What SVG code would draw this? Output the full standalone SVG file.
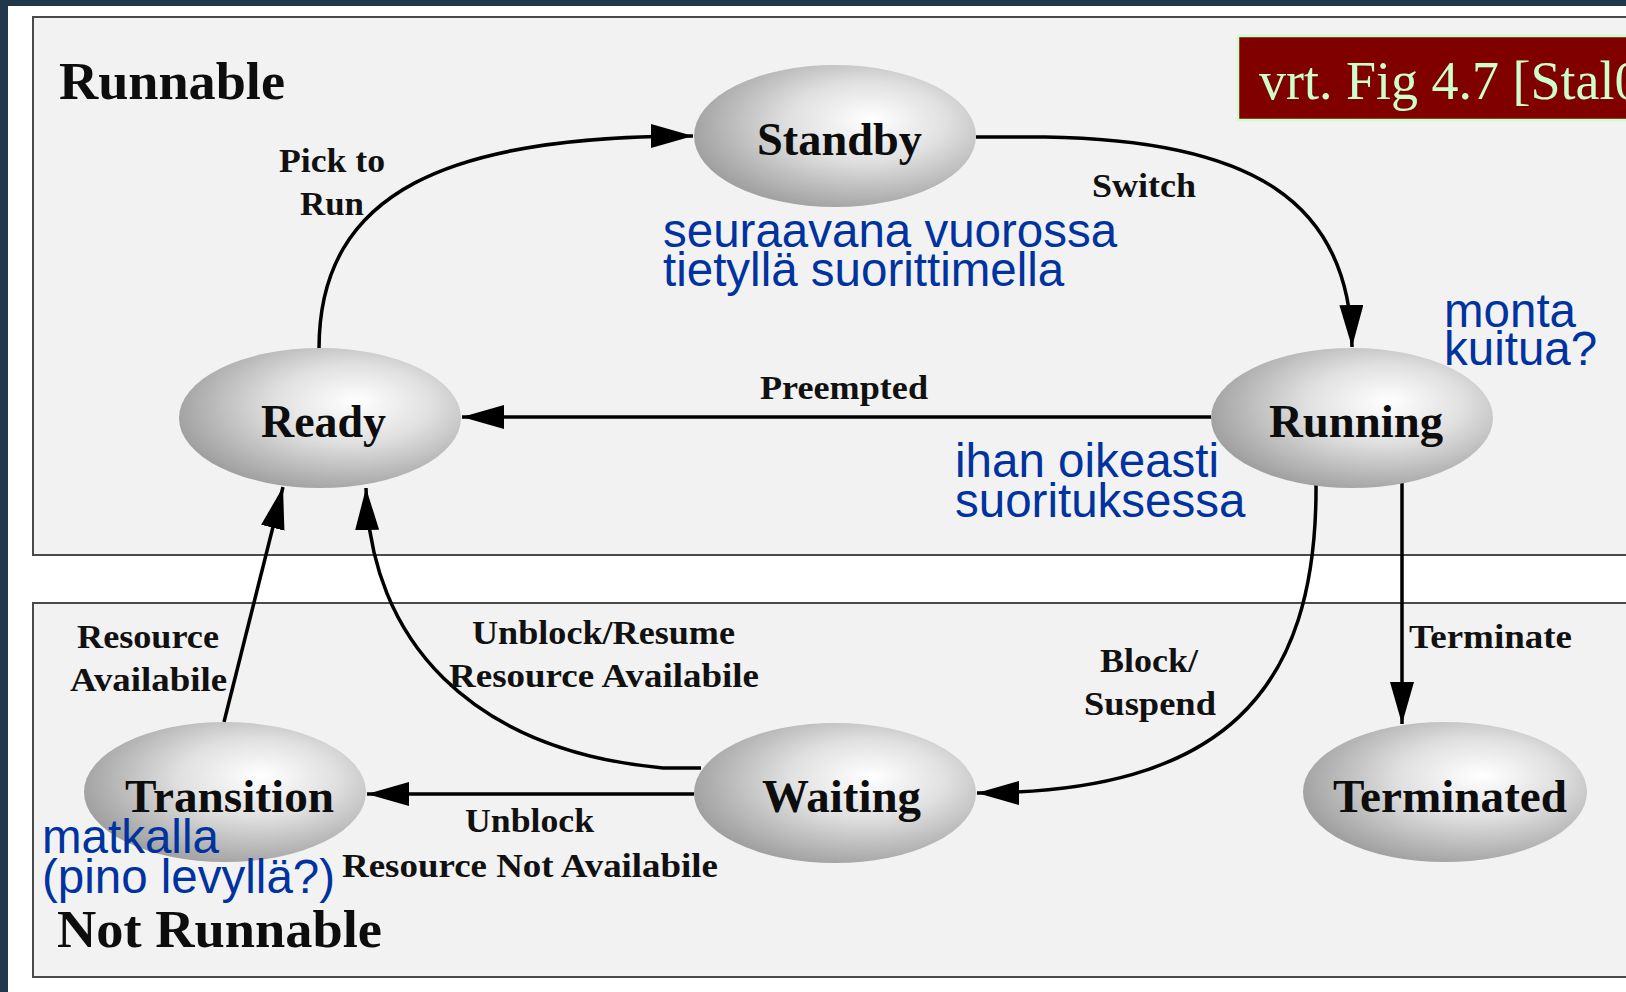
<svg xmlns="http://www.w3.org/2000/svg" width="1626" height="992" viewBox="0 0 1626 992">
  <defs>
    <radialGradient id="ball" cx="0.6" cy="0.42" r="0.62" fx="0.63" fy="0.38">
      <stop offset="0" stop-color="#ffffff"/>
      <stop offset="0.45" stop-color="#e0e0e0"/>
      <stop offset="1" stop-color="#a0a0a0"/>
    </radialGradient>
    <marker id="arrow" markerUnits="userSpaceOnUse" markerWidth="44" markerHeight="26" refX="42" refY="12" orient="auto">
      <path d="M0,0 L42,12 L0,24 Z" fill="#000"/>
    </marker>
    <style>
      .region { fill: #f2f2f2; stroke: #4a4a4a; stroke-width: 2; }
      .node ellipse { fill: url(#ball); }
      .title { font-family: "Liberation Serif", "Times New Roman", serif; font-weight: bold; font-size: 52px; fill: #0d0d0d; }
      .state { font-family: "Liberation Serif", "Times New Roman", serif; font-weight: bold; font-size: 46px; fill: #0d0d0d; }
      .lbl { font-family: "Liberation Serif", "Times New Roman", serif; font-weight: bold; font-size: 33px; fill: #111; }
      .note { font-family: "Liberation Sans", Arial, sans-serif; font-size: 47.5px; fill: #0033a0; }
      .edge { fill: none; stroke: #000; stroke-width: 3.5; }
      .arr { marker-end: url(#arrow); }
    </style>
  </defs>

  <!-- slide background and page -->
  <rect x="0" y="0" width="1626" height="992" fill="#21374b"/>
  <rect x="8" y="6" width="1618" height="986" fill="#ffffff"/>

  <!-- state regions -->
  <g id="region-runnable">
    <rect class="region" x="33" y="17" width="1620" height="538"/>
    <text class="title" x="59" y="99" textLength="226" lengthAdjust="spacingAndGlyphs">Runnable</text>
  </g>
  <g id="region-not-runnable">
    <rect class="region" x="33" y="603" width="1620" height="374"/>
    <text class="title" x="57" y="947" textLength="325" lengthAdjust="spacingAndGlyphs">Not Runnable</text>
  </g>

  <!-- reference tag -->
  <g id="ref-tag">
    <rect x="1238" y="36" width="400" height="84" fill="#800000" stroke="#ccffcc" stroke-width="2.5"/>
    <text x="1259" y="99" font-family="'Liberation Serif', 'Times New Roman', serif" font-size="54" fill="#ccffcc">vrt. Fig 4.7 [Stal0</text>
  </g>

  <!-- transitions -->
  <g id="connectors">
    <path id="e-ready-standby" class="edge arr" d="M319,349 C319,190 450,136 693,136"/>
    <path id="e-standby-running" class="edge arr" d="M976,137 L1045,137 C1250,140 1350,200 1352,347"/>
    <path id="e-running-ready" class="edge arr" d="M1211,417 L462,417"/>
    <path id="e-running-waiting" class="edge arr" d="M1316,482 C1318,695 1220,793 977,793"/>
    <path id="e-running-terminated" class="edge arr" d="M1402,482 L1402,724"/>
    <path id="e-waiting-ready" class="edge arr" d="M701,768 L663,768 C470,750 370,640 366,488"/>
    <path id="e-transition-ready" class="edge arr" d="M224,722 L283,487"/>
    <path id="e-waiting-transition" class="edge arr" d="M694,794 L367,794"/>

    <text class="lbl" x="279" y="172" textLength="106" lengthAdjust="spacingAndGlyphs">Pick to</text>
    <text class="lbl" x="300" y="215" textLength="64" lengthAdjust="spacingAndGlyphs">Run</text>
    <text class="lbl" x="1092" y="197" textLength="104" lengthAdjust="spacingAndGlyphs">Switch</text>
    <text class="lbl" x="760" y="399" textLength="168" lengthAdjust="spacingAndGlyphs">Preempted</text>
    <text class="lbl" x="77" y="648" textLength="142" lengthAdjust="spacingAndGlyphs">Resource</text>
    <text class="lbl" x="70" y="691" textLength="157" lengthAdjust="spacingAndGlyphs">Availabile</text>
    <text class="lbl" x="472" y="644" textLength="263" lengthAdjust="spacingAndGlyphs">Unblock/Resume</text>
    <text class="lbl" x="449" y="687" textLength="310" lengthAdjust="spacingAndGlyphs">Resource Availabile</text>
    <text class="lbl" x="465" y="832" textLength="129" lengthAdjust="spacingAndGlyphs">Unblock</text>
    <text class="lbl" x="342" y="877" textLength="376" lengthAdjust="spacingAndGlyphs">Resource Not Availabile</text>
    <text class="lbl" x="1100" y="672" textLength="98" lengthAdjust="spacingAndGlyphs">Block/</text>
    <text class="lbl" x="1084" y="715" textLength="132" lengthAdjust="spacingAndGlyphs">Suspend</text>
    <text class="lbl" x="1409" y="648" textLength="163" lengthAdjust="spacingAndGlyphs">Terminate</text>
  </g>

  <!-- states -->
  <g id="standby" class="node">
    <ellipse cx="835" cy="136" rx="141" ry="71"/>
    <text class="state" x="757" y="155" textLength="165" lengthAdjust="spacingAndGlyphs">Standby</text>
  </g>
  <g id="ready" class="node">
    <ellipse cx="320" cy="418" rx="141" ry="70"/>
    <text class="state" x="261" y="437" textLength="125" lengthAdjust="spacingAndGlyphs">Ready</text>
  </g>
  <g id="running" class="node">
    <ellipse cx="1352" cy="418" rx="141" ry="70"/>
    <text class="state" x="1269" y="437" textLength="174" lengthAdjust="spacingAndGlyphs">Running</text>
  </g>
  <g id="transition" class="node">
    <ellipse cx="225" cy="792" rx="141" ry="70"/>
    <text class="state" x="125" y="812" textLength="209" lengthAdjust="spacingAndGlyphs">Transition</text>
  </g>
  <g id="waiting" class="node">
    <ellipse cx="835" cy="793" rx="141" ry="70"/>
    <text class="state" x="762" y="812" textLength="159" lengthAdjust="spacingAndGlyphs">Waiting</text>
  </g>
  <g id="terminated" class="node">
    <ellipse cx="1445" cy="792" rx="142" ry="70"/>
    <text class="state" x="1333" y="812" textLength="234" lengthAdjust="spacingAndGlyphs">Terminated</text>
  </g>

  <!-- Finnish notes, two tightly spaced lines each -->
  <g id="notes">
    <text class="note" x="663" y="247">seuraavana vuorossa<tspan x="663" y="286">tietyllä suorittimella</tspan></text>
    <text class="note" x="1444" y="327">monta<tspan x="1444" y="365">kuitua?</tspan></text>
    <text class="note" x="955" y="477">ihan oikeasti<tspan x="955" y="517">suorituksessa</tspan></text>
    <text class="note" x="42" y="853">matkalla<tspan x="42" y="893">(pino levyllä?)</tspan></text>
  </g>
</svg>
